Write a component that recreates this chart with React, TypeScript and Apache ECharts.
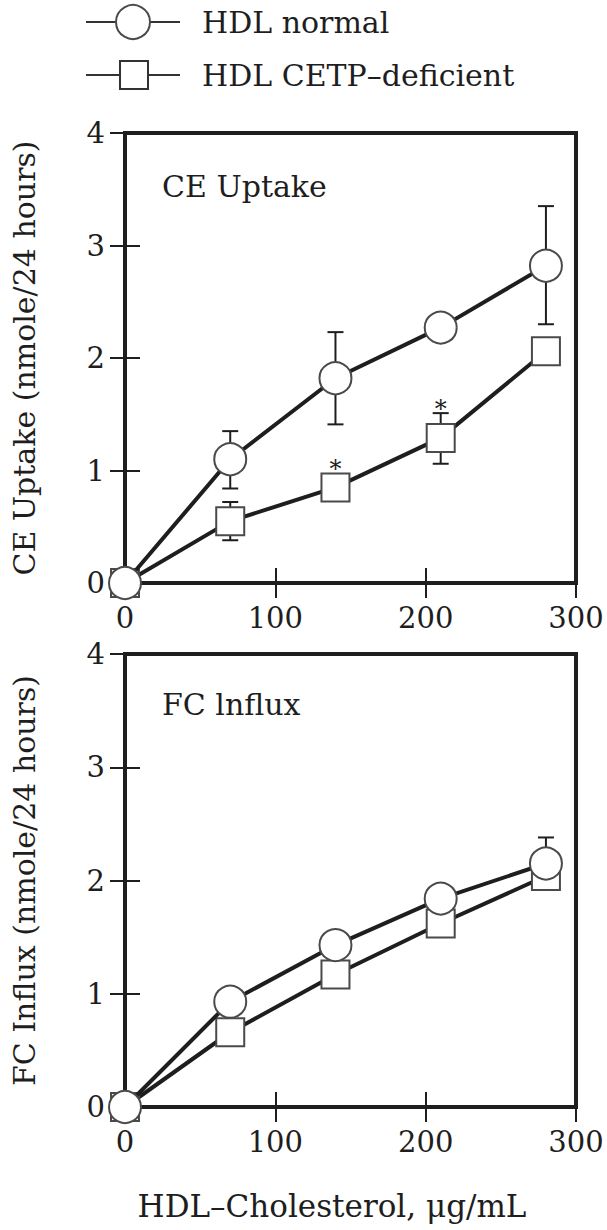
import React, { useEffect, useRef } from "react";
import * as echarts from "echarts";

const xValues = [0, 70, 140, 210, 280];
const ceNormal = [0, 1.1, 1.82, 2.27, 2.82];
const ceNormalLow = [null, 0.84, 1.41, null, 2.3];
const ceNormalHigh = [null, 1.35, 2.23, null, 3.35];
const ceDeficient = [0, 0.55, 0.85, 1.29, 2.06];
const ceDeficientLow = [null, 0.38, null, 1.06, null];
const ceDeficientHigh = [null, 0.72, null, 1.51, null];
const fcNormal = [0, 0.93, 1.43, 1.84, 2.15];
const fcNormalLow = [null, null, null, null, 1.92];
const fcNormalHigh = [null, null, null, null, 2.38];
const fcDeficient = [0, 0.66, 1.17, 1.62, 2.04];
const ceStarX = [140, 210];
const ceStarY = [1.07, 1.6];

const NAME_NORMAL = "HDL normal";
const NAME_DEF = "HDL CETP\u2013deficient";
const FONT = "DejaVu Serif";
const INK = "#1e1e1e";
const MARK = "#4a4a4a";

function pairs(ys: number[]) {
  return xValues.map((x, i) => [x, ys[i]]);
}
function errData(lo: (number | null)[], hi: (number | null)[]) {
  const out: number[][] = [];
  xValues.forEach((x, i) => {
    if (lo[i] != null && hi[i] != null) out.push([x, lo[i] as number, hi[i] as number]);
  });
  return out;
}

const errRender = (params: any, api: any) => {
  const x = api.value(0);
  const pLo = api.coord([x, api.value(1)]);
  const pHi = api.coord([x, api.value(2)]);
  const w = 8;
  const style = { stroke: INK, lineWidth: 2 };
  return {
    type: "group",
    children: [
      { type: "line", shape: { x1: pLo[0], y1: pLo[1], x2: pHi[0], y2: pHi[1] }, style },
      { type: "line", shape: { x1: pHi[0] - w, y1: pHi[1], x2: pHi[0] + w, y2: pHi[1] }, style },
      { type: "line", shape: { x1: pLo[0] - w, y1: pLo[1], x2: pLo[0] + w, y2: pLo[1] }, style },
    ],
  };
};

function xAxes(gridIndex: number) {
  const base = {
    gridIndex,
    type: "value",
    min: 0,
    max: 300,
    interval: 100,
    axisLine: { show: false },
    splitLine: { show: false },
    axisTick: { inside: true, length: 15, lineStyle: { color: INK, width: 2 } },
  };
  return [
    {
      ...base,
      position: "bottom",
      axisLabel: { color: INK, fontFamily: FONT, fontSize: 29, margin: 20 },
    },
    { ...base, position: "top", axisLabel: { show: false } },
  ];
}
function yAxes(gridIndex: number, name: string) {
  const base = {
    gridIndex,
    type: "value",
    min: 0,
    max: 4,
    interval: 1,
    axisLine: { show: false },
    splitLine: { show: false },
    axisTick: { inside: true, length: 15, lineStyle: { color: INK, width: 2 } },
  };
  return [
    {
      ...base,
      position: "left",
      name,
      nameLocation: "middle",
      nameGap: 86,
      nameTextStyle: { color: INK, fontFamily: FONT, fontSize: 30 },
      axisLabel: { color: INK, fontFamily: FONT, fontSize: 29, margin: 20 },
    },
    { ...base, position: "right", axisLabel: { show: false } },
  ];
}

function lineSeries(name: string, ys: number[], xi: number, symbol: string, size: number, z: number) {
  return {
    type: "line",
    name,
    xAxisIndex: xi,
    yAxisIndex: xi,
    data: pairs(ys),
    symbol,
    symbolSize: size,
    showAllSymbol: true,
    clip: false,
    z,
    lineStyle: { color: INK, width: 4 },
    itemStyle: { color: "#fff", borderColor: MARK, borderWidth: 2 },
  };
}

function legendGraphics() {
  const rows = [
    { name: NAME_NORMAL, y: 22, kind: "circle" },
    { name: NAME_DEF, y: 75, kind: "rect" },
  ];
  const out: any[] = [];
  rows.forEach((r) => {
    out.push({ type: "line", shape: { x1: 86, y1: r.y, x2: 180, y2: r.y }, style: { stroke: "#333", lineWidth: 2 } });
    if (r.kind === "circle") {
      out.push({ type: "circle", shape: { cx: 133, cy: r.y, r: 17 }, style: { fill: "#fff", stroke: MARK, lineWidth: 2 } });
    } else {
      out.push({ type: "rect", shape: { x: 120, y: r.y - 14, width: 28, height: 28 }, style: { fill: "#fff", stroke: "#333", lineWidth: 2 } });
    }
    out.push({
      type: "text",
      x: 202,
      y: r.y,
      style: { text: r.name, fontFamily: FONT, fontSize: 30, fill: INK, align: "left", verticalAlign: "middle" },
    });
  });
  return out;
}

export default function App() {
  const ref = useRef<HTMLDivElement>(null);
  useEffect(() => {
    if (!ref.current) return;
    const chart = echarts.init(ref.current, null, { renderer: "svg" });
    chart.setOption({
      animation: false,
      backgroundColor: "#fff",
      grid: [
        { left: 125, top: 133, width: 451, height: 450, show: true, borderColor: INK, borderWidth: 4, backgroundColor: "transparent" },
        { left: 125, top: 654, width: 451, height: 453, show: true, borderColor: INK, borderWidth: 4, backgroundColor: "transparent" },
      ],
      xAxis: [...xAxes(0), ...xAxes(1)],
      yAxis: [...yAxes(0, "CE Uptake (nmole/24 hours)"), ...yAxes(1, "FC Influx (nmole/24 hours)")],
      graphic: [
        ...legendGraphics(),
        { type: "text", x: 162, y: 186, style: { text: "CE Uptake", fontFamily: FONT, fontSize: 30, fill: INK, verticalAlign: "middle" } },
        { type: "text", x: 162, y: 704, style: { text: "FC lnflux", fontFamily: FONT, fontSize: 30, fill: INK, verticalAlign: "middle" } },
        {
          type: "text",
          x: 332,
          y: 1206,
          style: { text: "HDL\u2013Cholesterol, \u03bcg/mL", fontFamily: FONT, fontSize: 31, fill: INK, align: "center", verticalAlign: "middle" },
        },
      ],
      series: [
        { type: "custom", name: "err1", xAxisIndex: 0, yAxisIndex: 0, data: errData(ceNormalLow, ceNormalHigh), renderItem: errRender, encode: { x: 0, y: [1, 2] }, clip: false, z: 1 },
        { type: "custom", name: "err2", xAxisIndex: 0, yAxisIndex: 0, data: errData(ceDeficientLow, ceDeficientHigh), renderItem: errRender, encode: { x: 0, y: [1, 2] }, clip: false, z: 1 },
        { type: "custom", name: "err3", xAxisIndex: 2, yAxisIndex: 2, data: errData(fcNormalLow, fcNormalHigh), renderItem: errRender, encode: { x: 0, y: [1, 2] }, clip: false, z: 1 },
        {
          type: "custom",
          name: "stars",
          xAxisIndex: 0,
          yAxisIndex: 0,
          data: ceStarX.map((x, i) => [x, ceStarY[i]]),
          encode: { x: 0, y: 1 },
          clip: false,
          z: 4,
          renderItem: (params: any, api: any) => {
            const p = api.coord([api.value(0), api.value(1)]);
            return {
              type: "text",
              x: p[0],
              y: p[1] + 6,
              style: { text: "*", fontFamily: FONT, fontSize: 24, fill: INK, align: "center", verticalAlign: "middle" },
            };
          },
        },
        lineSeries(NAME_DEF, ceDeficient, 0, "rect", 28, 2),
        lineSeries(NAME_NORMAL, ceNormal, 0, "circle", 32, 3),
        lineSeries(NAME_DEF, fcDeficient, 2, "rect", 28, 2),
        lineSeries(NAME_NORMAL, fcNormal, 2, "circle", 32, 3),
      ],
    });
    return () => chart.dispose();
  }, []);
  return <div ref={ref} style={{ position: "absolute", left: 0, top: 0, width: 607, height: 1230 }} />;
}
